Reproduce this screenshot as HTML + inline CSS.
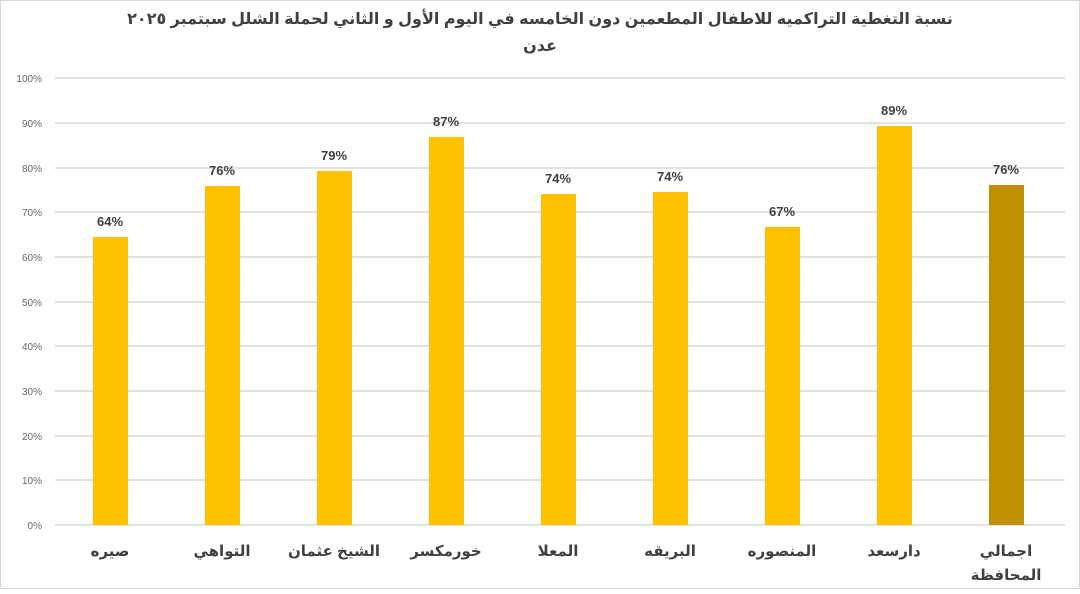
<!DOCTYPE html>
<html><head><meta charset="utf-8"><style>
body{margin:0;width:1080px;height:589px;background:#fff;overflow:hidden;font-family:"Liberation Sans","Noto Sans CJK SC",sans-serif}
</style></head><body>
<svg width="1080" height="589" xmlns="http://www.w3.org/2000/svg" font-family="Liberation Sans, DejaVu Sans, sans-serif">
<rect x="0.5" y="0.5" width="1079" height="588" fill="#fff" stroke="#d9d9d9"/>
<text x="540" y="24" text-anchor="middle" font-size="16" font-weight="bold" fill="#404040" direction="rtl">نسبة التغطية التراكميه للاطفال المطعمين دون الخامسه في اليوم الأول و الثاني لحملة الشلل سبتمبر ٢٠٢٥</text>
<text x="540" y="51" text-anchor="middle" font-size="16" font-weight="bold" fill="#404040" direction="rtl">عدن</text>
<g stroke="#d9d9d9" stroke-width="1.5">
<line x1="55" x2="1065" y1="78" y2="78"/><line x1="55" x2="1065" y1="123" y2="123"/>
<line x1="55" x2="1065" y1="168" y2="168"/><line x1="55" x2="1065" y1="212" y2="212"/>
<line x1="55" x2="1065" y1="257" y2="257"/><line x1="55" x2="1065" y1="302" y2="302"/>
<line x1="55" x2="1065" y1="346" y2="346"/><line x1="55" x2="1065" y1="391" y2="391"/>
<line x1="55" x2="1065" y1="436" y2="436"/><line x1="55" x2="1065" y1="480" y2="480"/>
<line x1="55" x2="1065" y1="525" y2="525"/>
</g>
<g font-size="10" fill="#666" text-anchor="end">
<text x="42" y="82">100%</text><text x="42" y="127">90%</text><text x="42" y="172">80%</text>
<text x="42" y="216">70%</text><text x="42" y="261">60%</text><text x="42" y="306">50%</text>
<text x="42" y="350">40%</text><text x="42" y="395">30%</text><text x="42" y="440">20%</text>
<text x="42" y="484">10%</text><text x="42" y="529">0%</text>
</g>
<g fill="#ffc000">
<rect x="93" y="237" width="35" height="288"/>
<rect x="205" y="186" width="35" height="339"/>
<rect x="317" y="171" width="35" height="354"/>
<rect x="429" y="137" width="35" height="388"/>
<rect x="541" y="194" width="35" height="331"/>
<rect x="653" y="192" width="35" height="333"/>
<rect x="765" y="227" width="35" height="298"/>
<rect x="877" y="126" width="35" height="399"/>
<rect x="989" y="185" width="35" height="340" fill="#bf9000"/>
</g>
<g font-size="13" font-weight="bold" fill="#404040" text-anchor="middle">
<text x="110" y="226">64%</text><text x="222" y="175">76%</text><text x="334" y="160">79%</text>
<text x="446" y="126">87%</text><text x="558" y="183">74%</text><text x="670" y="181">74%</text>
<text x="782" y="216">67%</text><text x="894" y="115">89%</text><text x="1006" y="174">76%</text>
</g>
<g font-size="15" font-weight="bold" fill="#404040" text-anchor="middle" direction="rtl">
<text x="110" y="556">صيره</text><text x="222" y="556">التواهي</text><text x="334" y="556">الشيخ عثمان</text>
<text x="446" y="556">خورمكسر</text><text x="558" y="556">المعلا</text><text x="670" y="556">البريقه</text>
<text x="782" y="556">المنصوره</text><text x="894" y="556">دارسعد</text>
<text x="1006" y="556">اجمالي</text><text x="1006" y="580">المحافظة</text>
</g>
</svg>
</body></html>
